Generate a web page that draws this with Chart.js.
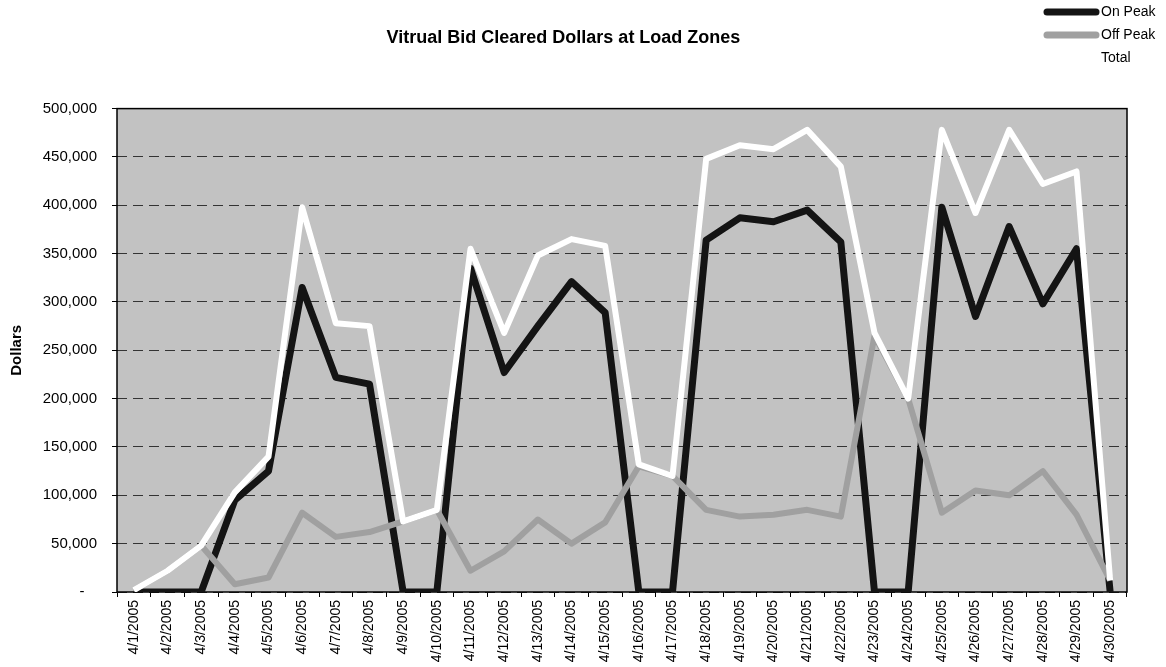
<!DOCTYPE html>
<html>
<head>
<meta charset="utf-8">
<title>Vitrual Bid Cleared Dollars at Load Zones</title>
<script src="https://cdn.jsdelivr.net/npm/chart.js@4/dist/chart.umd.min.js"></script>
<style>
  html, body { margin: 0; padding: 0; background: #fff; }
  #wrap { width: 1166px; height: 667px; position: relative; }
</style>
</head>
<body>
<div id="wrap"><canvas id="chart"></canvas></div>
<script>

// days of April 2005
var days = ['4/1/2005', '4/2/2005', '4/3/2005', '4/4/2005', '4/5/2005', '4/6/2005',
  '4/7/2005', '4/8/2005', '4/9/2005', '4/10/2005', '4/11/2005', '4/12/2005',
  '4/13/2005', '4/14/2005', '4/15/2005', '4/16/2005', '4/17/2005', '4/18/2005',
  '4/19/2005', '4/20/2005', '4/21/2005', '4/22/2005', '4/23/2005', '4/24/2005',
  '4/25/2005', '4/26/2005', '4/27/2005', '4/28/2005', '4/29/2005', '4/30/2005'];

// values (dollars)
var onPeak = [0, 0, 0, 95000, 125000, 315000, 222000, 215000, 0, 0,
  335000, 227000, 275000, 321000, 289000, 0, 0, 364000, 387000, 383000,
  395000, 362000, 0, 0, 398000, 285000, 378000, 298000, 355000, 0];

var offPeak = [2000, 22000, 48000, 8000, 15000, 82000, 57000, 62000, 73000, 85000,
  22000, 42000, 75000, 50000, 72000, 130000, 120000, 85000, 78000, 80000,
  85000, 78000, 265000, 200000, 82000, 105000, 100000, 125000, 80000, 12000];

var total = [2000, 22000, 48000, 103000, 140000, 398000, 278000, 275000, 73000, 85000,
  355000, 268000, 348000, 365000, 358000, 132000, 120000, 448000, 462000, 458000,
  478000, 440000, 268000, 200000, 478000, 392000, 478000, 422000, 435000, 12000];

var yTicks = { min: 0, max: 500000, step: 50000 };

Chart.defaults.font.family = 'Arial, "Liberation Sans", sans-serif';
Chart.defaults.font.size = 14;
Chart.defaults.color = '#000';

//
// grey plot area with a black frame, like the old spreadsheet chart
//
var plotArea = {
  id: 'plotArea',
  beforeDraw: function (chart) {
    var a = chart.chartArea, ctx = chart.ctx;
    ctx.save();
    ctx.fillStyle = '#c2c2c2';
    ctx.fillRect(a.left, a.top, a.right - a.left, a.bottom - a.top);
    ctx.restore();
  },
  beforeDatasetsDraw: function (chart) {
    var a = chart.chartArea, ctx = chart.ctx;
    ctx.save();
    ctx.strokeStyle = '#000';
    ctx.lineWidth = 1.5;
    ctx.strokeRect(a.left, a.top, a.right - a.left, a.bottom - a.top);
    ctx.restore();
  }
};

//
// stacked legend in the top right corner
//
var cornerLegend = {
  id: 'cornerLegend',
  afterDraw: function (chart) {
    var ctx = chart.ctx;
    var x = 1101, y = 12, rowH = 23;
    ctx.save();
    ctx.font = '14px Arial, "Liberation Sans", sans-serif';
    ctx.textBaseline = 'middle';
    ctx.textAlign = 'left';
    chart.data.datasets.forEach(function (ds, i) {
      var yy = y + i * rowH;
      ctx.strokeStyle = ds.borderColor;
      ctx.lineWidth = 7;
      ctx.lineCap = 'round';
      ctx.beginPath();
      ctx.moveTo(x - 54, yy);
      ctx.lineTo(x - 5, yy);
      ctx.stroke();
      ctx.fillStyle = '#000';
      ctx.fillText(ds.label, x, yy);
    });
    ctx.restore();
  }
};

function lineSet(label, data, color, width, order) {
  return {
    label: label,
    data: data,
    borderColor: color,
    backgroundColor: color,
    borderWidth: width,
    borderJoinStyle: 'round',
    pointRadius: 0,
    tension: 0,
    order: order
  };
}

var ctx = document.getElementById('chart').getContext('2d');

new Chart(ctx, {
  type: 'line',
  data: {
    labels: days,
    datasets: [
      lineSet('On Peak', onPeak, '#141414', 7, 3),
      lineSet('Off Peak', offPeak, '#a0a0a0', 6, 2),
      lineSet('Total', total, '#ffffff', 6, 1)
    ]
  },
  options: {
    responsive: true,
    maintainAspectRatio: false,
    animation: false,
    layout: { padding: { left: 0, right: 39, top: 0, bottom: 0 } },
    plugins: {
      legend: { display: false },
      tooltip: { enabled: false },
      title: {
        display: true,
        text: 'Vitrual Bid Cleared Dollars at Load Zones',
        font: { size: 18, weight: 'bold' },
        padding: { top: 27, bottom: 60 }
      }
    },
    scales: {
      x: {
        offset: true,
        grid: {
          offset: true,
          drawOnChartArea: false,
          drawTicks: true,
          tickLength: 5,
          color: '#000'
        },
        border: { display: false },
        ticks: {
          autoSkip: false,
          maxRotation: 90,
          minRotation: 90,
          padding: 3
        },
        afterFit: function (scale) { scale.height = 75; }
      },
      y: {
        min: yTicks.min,
        max: yTicks.max,
        grid: {
          color: '#333',
          lineWidth: 1,
          tickLength: 5,
          tickColor: '#000'
        },
        border: { display: false, dash: [10, 6] },
        ticks: {
          stepSize: yTicks.step,
          padding: 15,
          font: { size: 15 },
          callback: function (v) {
            return v === 0 ? '-   ' : v.toLocaleString('en-US');
          }
        },
        title: {
          display: true,
          text: 'Dollars',
          font: { size: 15, weight: 'bold' },
          padding: { top: 8, bottom: 0 }
        },
        afterFit: function (scale) { scale.width = 117; }
      }
    }
  },
  plugins: [plotArea, cornerLegend]
});
</script>
</body>
</html>
